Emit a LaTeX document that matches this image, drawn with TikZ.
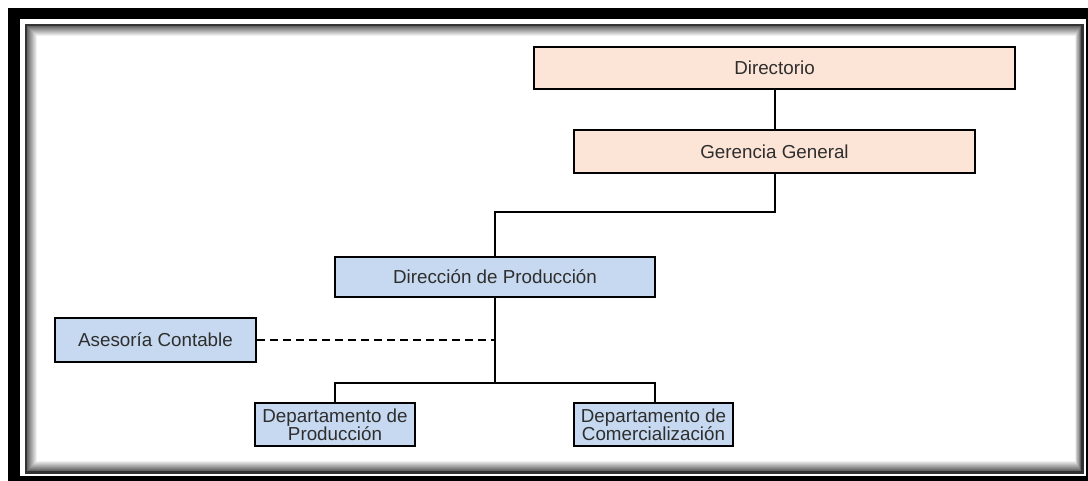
\documentclass[tikz,border=0pt]{standalone}
\usepackage{fontspec}
\setmainfont{Liberation Sans}
\usepackage{xcolor}
\definecolor{peach}{HTML}{FCE4D6}
\definecolor{paleblue}{HTML}{C6D9F0}
\definecolor{ink}{HTML}{2E2E2E}

\tikzset{
    unit/.style={draw=black, line width=2pt, text=ink, inner sep=0pt, align=center,
        font=\fontsize{18.8}{18}\selectfont},
    top/.style={unit, fill=peach},
    dept/.style={unit, fill=paleblue},
    link/.style={line width=2pt}
}

\begin{document}
\begin{tikzpicture}[x=1pt, y=-1pt]
    \useasboundingbox (0,0) rectangle (1088,481);

    % Frame
    \fill[black] (8,8) rectangle (1088,481);
    \fill[white] (20,19) rectangle (1086,476);
    \fill[black!80] (25,24) rectangle (1084,474);
    \foreach \i in {0,...,9}
        \fill[black!\the\numexpr 60-6*\i\relax] (27+\i,26+\i) rectangle (1081-0.6*\i,471-\i);
    \fill[white] (37,36) rectangle (1075,461);

    % Upper levels
    \node[top, minimum width=481, minimum height=42] (dir) at (774.5,68) {Directorio};
    \node[top, minimum width=401, minimum height=43] (ger) at (774.5,151.5) {Gerencia General};

    % Production line
    \node[dept, minimum width=320, minimum height=40] (dprod) at (495,277) {Dirección de Producción};
    \node[dept, minimum width=201, minimum height=44] (ases) at (155.5,340) {Asesoría Contable};
    \node[dept, minimum width=160, minimum height=43] (depprod) at (335,424.5) {Departamento de\\Producción};
    \node[dept, minimum width=159, minimum height=43] (depcom) at (653.5,424.5) {Departamento de\\Comercialización};

    \coordinate (split) at (495,212);
    \coordinate (staff) at (495,340);
    \coordinate (bus) at (495,383);

    % Connectors
    \draw[link] (dir.south) -- (ger.north);
    \draw[link] (ger.south) |- (split) -- (dprod.north);
    \draw[link] (dprod.south) -- (bus);
    \draw[link] (depprod.north) |- (bus) -| ([xshift=1.5]depcom.north);
    \draw[link, dash pattern=on 8pt off 5pt] (ases.east) -- (staff);
\end{tikzpicture}
\end{document}
